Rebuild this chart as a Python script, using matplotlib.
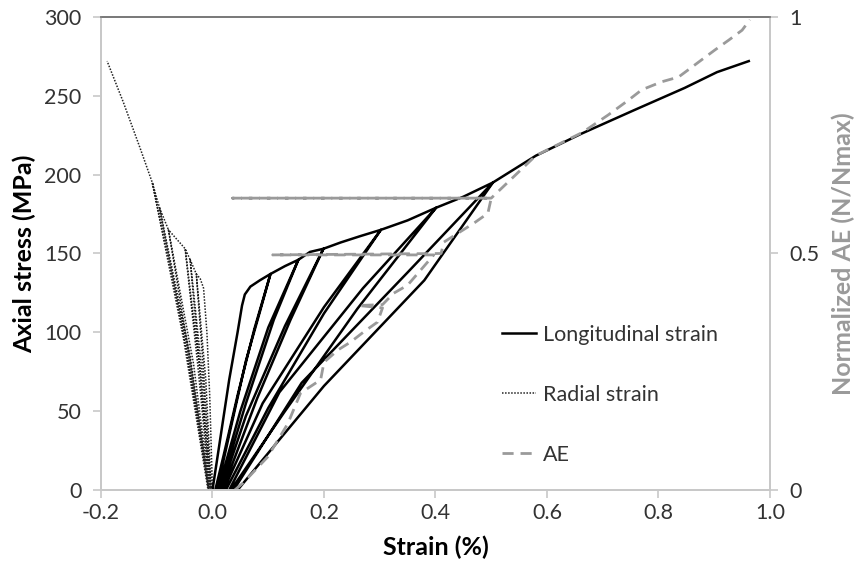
import matplotlib
matplotlib.use("Agg")
import matplotlib.pyplot as plt
from matplotlib.lines import Line2D

plt.rcParams["font.family"] = ["Lato", "DejaVu Sans"]

# ---------------------------------------------------------------------
# data (strain in %, stress in MPa, AE normalised)
# ---------------------------------------------------------------------

# longitudinal strain: loading path with six unload/reload loops
long_strain = [0.0, 0.015, 0.03, 0.045, 0.053, 0.058, 0.068, 0.085, 0.104,
               0.075, 0.045, 0.02, 0.005, 0.008, 0.03, 0.06, 0.085, 0.104,
               0.13, 0.154, 0.10, 0.05, 0.01, 0.013, 0.06, 0.11, 0.154,
               0.175, 0.199, 0.13, 0.06, 0.015, 0.018, 0.08, 0.14, 0.199,
               0.23, 0.265, 0.302, 0.20, 0.09, 0.02, 0.024, 0.10, 0.20, 0.302,
               0.35, 0.401, 0.27, 0.12, 0.03, 0.033, 0.13, 0.26, 0.401,
               0.45, 0.503, 0.35, 0.16, 0.038, 0.045, 0.20, 0.38, 0.503,
               0.58, 0.662, 0.757, 0.847, 0.905, 0.962]
long_stress = [0, 35, 70, 100, 117, 124, 129, 133, 137,
               102, 60, 22, 0, 0, 35, 82, 113, 137,
               142, 146, 103, 50, 0, 0, 55, 108, 146,
               151, 153, 104, 47, 0, 0, 58, 108, 153,
               157, 161, 165, 116, 55, 0, 0, 52, 112, 165,
               171, 179, 128, 62, 0, 0, 50, 115, 179,
               186, 195, 138, 68, 0, 0, 66, 133, 195,
               212, 226, 241, 255, 265, 272]

# radial strain: same cycles, expanding to the left
rad_strain = [0.0, -0.005, -0.01, -0.016, -0.022, -0.029,
              -0.012, -0.002, -0.003, -0.015, -0.029,
              -0.04, -0.018, -0.003, -0.004, -0.022, -0.04,
              -0.049, -0.022, -0.004, -0.005, -0.026, -0.049,
              -0.079, -0.034, -0.005, -0.006, -0.04, -0.079,
              -0.095, -0.04, -0.006, -0.007, -0.046, -0.095,
              -0.108, -0.046, -0.007, -0.008, -0.052, -0.108,
              -0.13, -0.16, -0.189]
rad_stress = [0, 60, 100, 128, 134, 137,
              70, 0, 0, 70, 137,
              146, 72, 0, 0, 74, 146,
              153, 75, 0, 0, 78, 153,
              165, 80, 0, 0, 82, 165,
              179, 85, 0, 0, 88, 179,
              195, 92, 0, 0, 96, 195,
              217, 246, 272]

# acoustic emission, right axis
ae_strain = [0.04, 0.055, 0.099, 0.135, 0.158, 0.194, 0.2, 0.225, 0.248,
             0.271, 0.296, 0.305, 0.262, 0.305, 0.325, 0.35, 0.397,
             0.108, 0.41, 0.415, 0.47, 0.494, 0.5, 0.036, 0.5,
             0.58, 0.662, 0.675, 0.71, 0.746, 0.77, 0.806, 0.836, 0.86,
             0.877, 0.901, 0.926, 0.95, 0.964]
ae_norm = [0.0, 0.015, 0.07, 0.14, 0.205, 0.233, 0.27, 0.296, 0.313,
           0.334, 0.355, 0.385, 0.39, 0.392, 0.416, 0.433, 0.497,
           0.497, 0.5, 0.524, 0.565, 0.585, 0.617, 0.617, 0.617,
           0.707, 0.755, 0.765, 0.793, 0.824, 0.846, 0.863, 0.873, 0.894,
           0.909, 0.93, 0.951, 0.972, 0.994]

x_ticks = [-0.2, 0.0, 0.2, 0.4, 0.6, 0.8, 1.0]
y_ticks = [0, 50, 100, 150, 200, 250, 300]
ae_ticks = [0, 0.5, 1]
ae_tick_labels = ["0", "0.5", "1"]

# ---------------------------------------------------------------------
# plot
# ---------------------------------------------------------------------

fig = plt.figure(figsize=(8.58, 5.65), dpi=100)
ax = fig.add_axes([0.1177, 0.1327, 0.7797, 0.8373])
ax2 = ax.twinx()

ax.plot(rad_strain, rad_stress, color="#222222", lw=1.1, linestyle=(0, (1, 1)))
ax.plot(long_strain, long_stress, color="black", lw=1.8)
ax2.plot(ae_strain, ae_norm, color="#9a9a9a", lw=2.0, linestyle=(0, (4, 2.5)))

ax.set_xlim(-0.2, 1.0)
ax.set_ylim(0, 300)
ax2.set_ylim(0, 1)
ax.set_xticks(x_ticks)
ax.set_xticklabels([f"{t:.1f}" for t in x_ticks])
ax.set_yticks(y_ticks)
ax2.set_yticks(ae_ticks)
ax2.set_yticklabels(ae_tick_labels)

for a in (ax, ax2):
    for side in ("left", "right", "bottom"):
        a.spines[side].set_color("#c8c8c8")
        a.spines[side].set_linewidth(1.3)
    a.spines["top"].set_color("#7a7a7a")
    a.spines["top"].set_linewidth(1.3)
    a.tick_params(colors="#c8c8c8", labelcolor="#333333", labelsize=15.5,
                  length=6, width=1.2)
ax.tick_params(axis="y", pad=8)
ax2.tick_params(axis="y", pad=8)

ax.set_xlabel("Strain (%)", fontsize=18, fontweight="bold", labelpad=9)
ax.set_ylabel("Axial stress (MPa)", fontsize=18, fontweight="bold", labelpad=6)
ax2.set_ylabel("Normalized AE (N/Nmax)", fontsize=18, fontweight="bold",
               color="#9a9a9a", labelpad=9)

handles = [
    Line2D([], [], color="black", lw=1.8),
    Line2D([], [], color="#222222", lw=1.1, linestyle=(0, (1, 1))),
    Line2D([], [], color="#9a9a9a", lw=2.0, linestyle=(0, (4, 2.5))),
]
ax2.legend(handles, ["Longitudinal strain", "Radial strain", "AE"],
           loc="upper left", bbox_to_anchor=(0.57, 0.39), frameon=False,
           fontsize=15.5, handlelength=1.6, handletextpad=0.3, labelspacing=1.85,
           labelcolor="#333333")

fig.savefig("out.png", dpi=100)
